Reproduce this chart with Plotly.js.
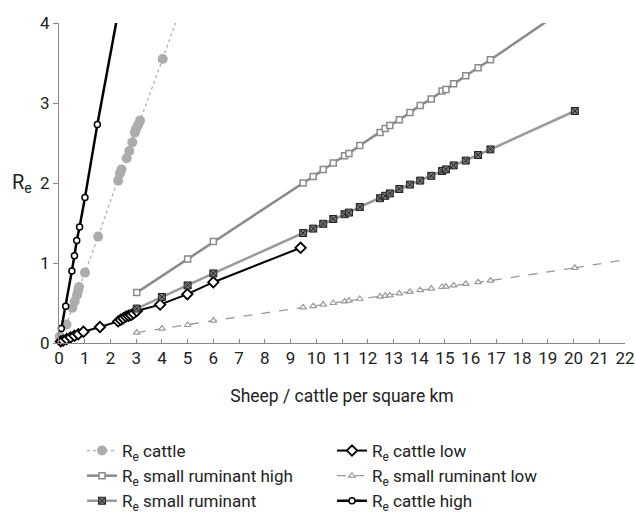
<!DOCTYPE html>
<html>
<head>
<meta charset="utf-8">
<script src="https://cdn.plot.ly/plotly-3.0.1.min.js"></script>
<style>html,body{margin:0;padding:0;background:#fff;}#chart{width:635px;height:525px;}</style>
</head>
<body>
<div id="chart"></div>
<script>
// ---- data ----
const cattleX = [0.03, 0.29, 0.52, 0.61, 0.70, 0.74, 0.78, 1.01, 1.52, 2.30, 2.37, 2.43, 2.63, 2.73, 2.85, 2.95, 3.00, 3.08, 3.15, 4.03];
const cattleY = [0.08, 0.23, 0.44, 0.52, 0.60, 0.65, 0.70, 0.88, 1.33, 2.03, 2.12, 2.17, 2.31, 2.40, 2.51, 2.63, 2.68, 2.73, 2.78, 3.55];
const cattleLineStartX = [0], cattleLineStartY = [0];
const cattleLineEndX = [4.55], cattleLineEndY = [4.02];

const cattleLowX = [0.07, 0.16, 0.30, 0.45, 0.60, 0.75, 0.95, 1.59, 2.30, 2.40, 2.50, 2.60, 2.70, 2.80, 2.90, 3.02, 3.93, 4.99, 6.00, 9.39];
const cattleLowY = [0.02, 0.03, 0.05, 0.07, 0.09, 0.11, 0.14, 0.20, 0.27, 0.29, 0.31, 0.33, 0.34, 0.35, 0.37, 0.40, 0.48, 0.61, 0.76, 1.19];

const srHighX = [3.02, 5.00, 6.00, 9.49, 9.88, 10.27, 10.66, 11.10, 11.27, 11.69, 12.48, 12.68, 12.86, 13.23, 13.64, 14.04, 14.47, 14.89, 15.04, 15.34, 15.81, 16.29, 16.77];
const srHighY = [0.63, 1.05, 1.27, 2.00, 2.08, 2.17, 2.25, 2.34, 2.37, 2.47, 2.63, 2.68, 2.72, 2.79, 2.88, 2.97, 3.05, 3.15, 3.17, 3.24, 3.34, 3.44, 3.54];
const srHighLineEndX = [19.0], srHighLineEndY = [4.03];

const srX = [3.02, 4.00, 5.00, 6.00, 9.49, 9.88, 10.27, 10.66, 11.10, 11.27, 11.69, 12.48, 12.68, 12.86, 13.23, 13.64, 14.04, 14.47, 14.89, 15.04, 15.34, 15.81, 16.29, 16.77, 20.05];
const srY = [0.43, 0.575, 0.72, 0.87, 1.375, 1.43, 1.49, 1.55, 1.61, 1.63, 1.70, 1.81, 1.84, 1.87, 1.925, 1.98, 2.03, 2.09, 2.15, 2.17, 2.22, 2.28, 2.35, 2.42, 2.90];

const srLowX = [3.02, 4.00, 5.00, 6.00, 9.49, 9.88, 10.27, 10.66, 11.10, 11.27, 11.69, 12.48, 12.68, 12.86, 13.23, 13.64, 14.04, 14.47, 14.89, 15.04, 15.34, 15.81, 16.29, 16.77, 20.05];
const srLowY = [0.13, 0.18, 0.225, 0.28, 0.445, 0.46, 0.48, 0.50, 0.52, 0.53, 0.55, 0.58, 0.59, 0.595, 0.62, 0.64, 0.66, 0.68, 0.70, 0.705, 0.72, 0.74, 0.76, 0.78, 0.94];
const srLowLineEndX = [22.0], srLowLineEndY = [1.04];

const cattleHighX = [0.09, 0.26, 0.50, 0.60, 0.69, 0.80, 1.01, 1.49];
const cattleHighY = [0.18, 0.46, 0.90, 1.09, 1.28, 1.45, 1.82, 2.73];
const cattleHighLineEndX = [2.25], cattleHighLineEndY = [4.05];

const xTickVals = [0,1,2,3,4,5,6,7,8,9,10,11,12,13,14,15,16,17,18,19,20,21,22];
const yTickVals = [0,1,2,3,4];

const names = ["R<sub>e</sub> cattle", "R<sub>e</sub> cattle low", "R<sub>e</sub> small ruminant high",
               "R<sub>e</sub> small ruminant low", "R<sub>e</sub> small ruminant", "R<sub>e</sub> cattle high"];

// ---- styles ----
const FONT = "Roboto, 'Liberation Sans', sans-serif";
const sCattle = {line:{color:'#ababab', width:1.2, dash:'dot'}, marker:{symbol:'circle', size:10, color:'#acacac'}};
const sCattleLow = {line:{color:'#000', width:2}, marker:{symbol:'diamond', size:8, color:'#fff', line:{color:'#000', width:1.8}}};
const sSrHigh = {line:{color:'#8a8a8a', width:2.5}, marker:{symbol:'square', size:6, color:'#fff', line:{color:'#8a8a8a', width:1.5}}};
const sSrLow = {line:{color:'#9a9a9a', width:1.3, dash:'dash'}, marker:{symbol:'triangle-up', size:6, color:'#fff', line:{color:'#9a9a9a', width:1.2}}};
const sSr = {line:{color:'#9a9a9a', width:2.5}, marker:{symbol:'square-x', size:7, color:'#777', line:{color:'#222', width:1}}};
const sCattleHigh = {line:{color:'#000', width:2.5}, marker:{symbol:'circle', size:6, color:'#fff', line:{color:'#000', width:1.5}}};

function ext(x0, y0, x1, y1, st) {
  return {x: x0.concat(x1), y: y0.concat(y1), type:'scatter', mode:'lines', line: st.line, showlegend:false, hoverinfo:'skip', cliponaxis:true};
}
function main(x, y, name, st) {
  return {x: x, y: y, name: name, type:'scatter', mode:'lines+markers', line: st.line, marker: st.marker, cliponaxis:false};
}

const traces = [
  ext(cattleLineStartX, cattleLineStartY, [cattleX[0]], [cattleY[0]], sCattle),
  ext([cattleX[cattleX.length-1]], [cattleY[cattleY.length-1]], cattleLineEndX, cattleLineEndY, sCattle),
  ext([srHighX[srHighX.length-1]], [srHighY[srHighY.length-1]], srHighLineEndX, srHighLineEndY, sSrHigh),
  ext([srLowX[srLowX.length-1]], [srLowY[srLowY.length-1]], srLowLineEndX, srLowLineEndY, sSrLow),
  ext([cattleHighX[cattleHighX.length-1]], [cattleHighY[cattleHighY.length-1]], cattleHighLineEndX, cattleHighLineEndY, sCattleHigh),
  main(cattleX, cattleY, names[0], sCattle),
  main(cattleLowX, cattleLowY, names[1], sCattleLow),
  main(srHighX, srHighY, names[2], sSrHigh),
  main(srLowX, srLowY, names[3], sSrLow),
  main(srX, srY, names[4], sSr),
  main(cattleHighX, cattleHighY, names[5], sCattleHigh)
];

const layout = {
  width: 635, height: 525,
  margin: {l:59, r:10, t:23, b:182},
  paper_bgcolor:'#fff', plot_bgcolor:'#fff',
  font: {family: FONT, size: 17, color:'#222'},
  showlegend: true,
  xaxis: {
    range:[0,22], tickvals: xTickVals, ticktext: xTickVals.map(String),
    showgrid:false, zeroline:false, showline:true, linecolor:'#888', linewidth:1,
    ticks:'inside', ticklen:4, tickcolor:'#888',
    tickfont:{size:17, color:'#222'},
    title:{text:'Sheep / cattle per square km', font:{size:17.5, color:'#222'}, standoff:22},
    automargin:false,
    fixedrange:true
  },
  yaxis: {
    range:[0,4], tickvals: yTickVals, ticktext: yTickVals.map(String),
    showgrid:false, zeroline:false, showline:true, linecolor:'#888', linewidth:1,
    ticks:'outside', ticklen:5, tickcolor:'#888',
    tickfont:{size:17, color:'#222'},
    automargin:false,
    fixedrange:true
  },
  annotations: [{
    text:'R<sub>e</sub>', xref:'paper', yref:'y', x:-0.045, y:2, xanchor:'right', yanchor:'middle',
    showarrow:false, font:{size:20, color:'#222'}
  }],
  legend: {
    orientation:'h', xref:'container', yref:'container',
    x:82/635, xanchor:'left', y:1-433/525, yanchor:'top',
    entrywidth:205, entrywidthmode:'pixels',
    font:{size:17, color:'#222'}, bgcolor:'rgba(0,0,0,0)', borderwidth:0
  }
};

Plotly.newPlot('chart', traces, layout, {displayModeBar:false, staticPlot:true});
</script>
</body>
</html>
